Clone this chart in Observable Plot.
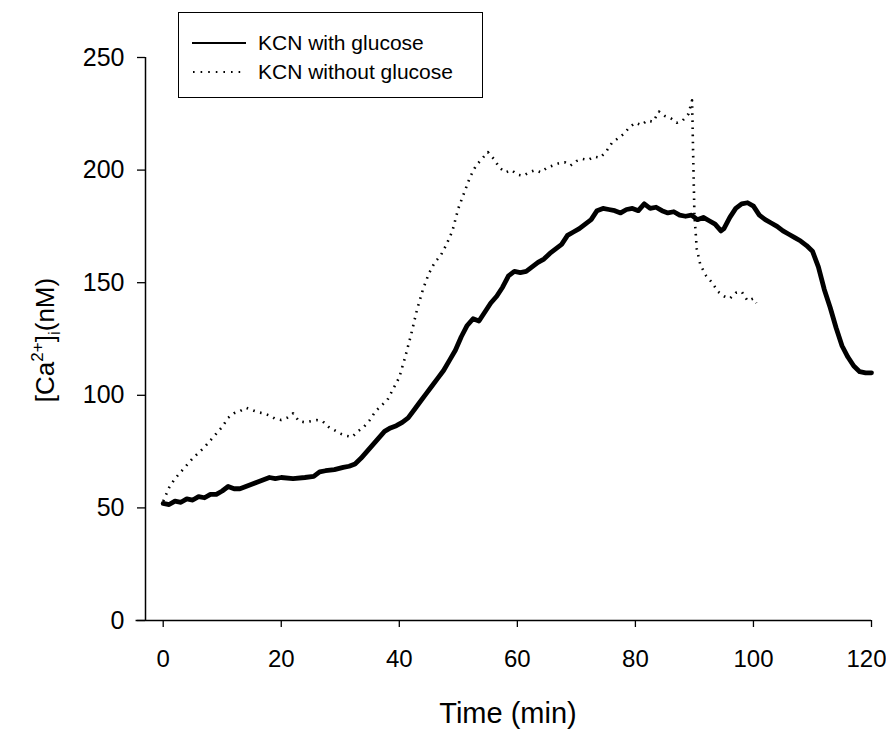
<!DOCTYPE html>
<html>
<head>
<meta charset="utf-8">
<script src="https://cdn.jsdelivr.net/npm/d3@7"></script>
<script src="https://cdn.jsdelivr.net/npm/@observablehq/plot@0.6"></script>
<style>
  html, body { margin: 0; padding: 0; background: #fff; }
  #wrap { position: relative; width: 886px; height: 734px; font-family: "Liberation Sans", Arial, sans-serif; }
  #legend { position: absolute; left: 178px; top: 12px; width: 303px; height: 84px; border: 1.5px solid #000; background: #fff; }
  .row { position: absolute; left: 0; height: 26px; display: flex; align-items: center; font-size: 21px; color: #000; }
  .row svg { margin-left: 13px; margin-right: 12px; }
</style>
</head>
<body>
<div id="wrap">
  <div id="chart"></div>
  <div id="legend">
    <div class="row" style="top:17px"><svg width="54" height="6"><line x1="0" x2="54" y1="3" y2="3" stroke="#000" stroke-width="2"/></svg><span>KCN with glucose</span></div>
    <div class="row" style="top:46px"><svg width="54" height="6"><line x1="1" x2="54" y1="3" y2="3" stroke="#000" stroke-width="2" stroke-dasharray="1.6 6"/></svg><span>KCN without glucose</span></div>
  </div>
</div>
<script>
// KCN with glucose (solid)
const withTime = [0,1,2,3,4,5,6,7,8,9,10,11,12,13,14,15,16,17,18,19,20,22,24,25.5,26.5,27.5,29,30.5,31.5,32.5,33.5,34.5,35.5,36.5,37.5,38.5,39.5,40.5,41.5,42.5,43.5,44.5,45.5,46.5,47.5,48.5,49.5,50.5,51.5,52.5,53.5,54.5,55.5,56.5,57.5,58.5,59.5,60.5,61.5,62.5,63.5,64.5,65.5,66.5,67.5,68.5,69.5,70.5,71.5,72.5,73.5,74.5,75.5,76.5,77.5,78.5,79.5,80.5,81.5,82.5,83.5,84.5,85.5,86.5,87.5,88.5,89.5,90.5,91.5,92.5,93.5,94.5,95,96,97,98,99,100,101,102,103,104,105,106,107,108,109,110,111,112,113,114,115,116,117,118,119,120];
const withCa = [52,51.5,53,52.5,54,53.5,55,54.5,56,56,57.5,59.5,58.5,58.5,59.5,60.5,61.5,62.5,63.5,63,63.5,63,63.5,64,66,66.5,67,68,68.5,69.5,72,75,78,81,84,85.5,86.5,88,90,93.5,97,100.5,104,107.5,111,115.5,120,126,131,134,133,137,141,144,148,153,155,154.5,155,157,159,160.5,163,165,167,171,172.5,174,176,178,182,183,182.5,182,181,182.5,183,182,185,183,183.5,182,181,181.5,180,179.5,180,178,179,177.5,176,173,174,179,183,185,185.5,184,180,178,176.5,175,173,171.5,170,168.5,166.5,164,157,147,139,130,122,117,113,110.5,110,110];

// KCN without glucose (dotted)
const withoutTime = [0,0.5,1,2,3,4,5,6,7,8,9,10,11,12,13,14,15,16,17,18,19,20,21,22,23,24,25,26,27,28,29,30,31,32,33,34,35,36,37,38,39,40,41,42,43,44,45,46,47,48,49,50,51,52,53,54,55,56,57,58,59,60,61,62,63,64,65,66,67,68,69,70,71,72,73,74,75,76,77,78,79,80,81,82,83,84,85,86,87,88,89,89.6,89.8,90,90.4,91,92,93,94,95,96,97,98,99,100,100.5];
const withoutCa = [53,56,59,63,66,69,72,74.5,77,80,83,86,90,92,93,94.5,93.5,92.5,92,91,89.5,89,90,92,88.5,88,88.5,89,88.5,86,84.5,83,82,81.5,84,86,89,93,95.5,98,103,108,117,127,138,147,154,159,162,167,173,183,190,197,202,205,208,205,201,199,200,198,197.5,199,200,199,201,202,203,203.5,202,204,205,204.5,206,205.5,208,212,214,216,219,221,220,222,221.5,226,224,223,221,222,225,231,205,180,165,158,153,150,146,144,143,145.5,146,142,143,141];

const xTicks = [0,20,40,60,80,100,120];
const yTicks = [0,50,100,150,200,250];

const withData = withTime.map((t,i) => ({t, v: withCa[i]}));
const withoutData = withoutTime.map((t,i) => ({t, v: withoutCa[i]}));

const chart = Plot.plot({
  width: 886,
  height: 734,
  marginLeft: 145,
  marginRight: 15,
  marginTop: 57,
  marginBottom: 114,
  style: {fontFamily: "Liberation Sans, Arial, sans-serif", background: "#fff", color: "#000"},
  x: {domain: [-3, 120], ticks: xTicks},
  y: {domain: [0, 250], ticks: yTicks},
  marks: [
    Plot.ruleY([0], {x1: -4.6, x2: 120, stroke: "#000", strokeWidth: 1.5}),
    Plot.ruleX([-3], {y1: 0, y2: 250, stroke: "#000", strokeWidth: 1.5}),
    Plot.axisX({ticks: xTicks, tickSize: 7, tickPadding: 22, fontSize: 24, label: null, stroke: "#000", strokeWidth: 1.3}),
    Plot.axisY({ticks: yTicks, tickSize: 8, tickPadding: 13, fontSize: 25, label: null, stroke: "#000", strokeWidth: 1.3}),
    Plot.line(withoutData, {x: "t", y: "v", stroke: "#000", strokeWidth: 2.6, strokeDasharray: "1.6 5.5", strokeLinecap: "butt"}),
    Plot.line(withData, {x: "t", y: "v", stroke: "#000", strokeWidth: 4.8, strokeLinejoin: "round"})
  ]
});
document.getElementById("chart").appendChild(chart);

const svg = d3.select(chart);
// keep the last x tick label inside the picture, as in the reference
const xLabels = svg.selectAll("g[aria-label='x-axis tick label'] text").nodes();
if (xLabels.length) {
  const last = d3.select(xLabels[xLabels.length - 1]);
  last.attr("dx", "-5");
}

svg.append("text")
  .attr("x", 508).attr("y", 723)
  .attr("text-anchor", "middle")
  .attr("font-size", 29)
  .attr("fill", "#000")
  .text("Time (min)");

const yl = svg.append("text")
  .attr("transform", "translate(54,340) rotate(-90)")
  .attr("text-anchor", "middle")
  .attr("font-size", 26)
  .attr("fill", "#000");
yl.append("tspan").text("[Ca");
yl.append("tspan").attr("font-size", 17).attr("dy", -11).text("2+");
yl.append("tspan").attr("dy", 11).text("]");
yl.append("tspan").attr("font-size", 17).attr("dy", 6).text("i");
yl.append("tspan").attr("dy", -6).text("(nM)");
</script>
</body>
</html>
